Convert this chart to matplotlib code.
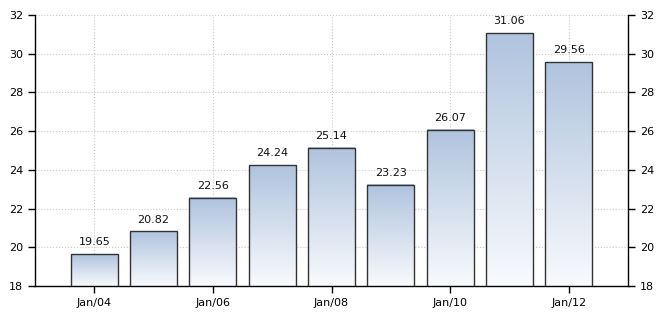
import numpy as np
import matplotlib
matplotlib.use("Agg")
import matplotlib.pyplot as plt
from matplotlib.colors import LinearSegmentedColormap

# dati
anni = ["Jan/04", "Jan/05", "Jan/06", "Jan/07", "Jan/08", "Jan/09", "Jan/10", "Jan/11", "Jan/12"]
valori = [19.65, 20.82, 22.56, 24.24, 25.14, 23.23, 26.07, 31.06, 29.56]
yticks = [18, 20, 22, 24, 26, 28, 30, 32]

fig = plt.figure(figsize=(6.7, 3.19), dpi=100)
ax = fig.add_axes([35/670, 1-286/319, (628-35)/670, (286-15)/319])

x = np.arange(len(valori))
barre = ax.bar(x, valori, width=0.79, bottom=0, color="none",
               edgecolor="#333333", linewidth=1.0, zorder=3)

# gradiente dentro ogni barra (bianco in basso, azzurro in alto)
cmap = LinearSegmentedColormap.from_list("grad", ["#f8fafd", "#b0c4de"])
grad = np.linspace(0, 1, 64).reshape(-1, 1)
for b in barre:
    x0 = b.get_x()
    w = b.get_width()
    h = b.get_height()
    ax.imshow(grad, cmap=cmap, origin="lower", aspect="auto",
              interpolation="bilinear", extent=[x0, x0 + w, 18, h], zorder=2)

for xi, v in zip(x, valori):
    ax.text(xi, v + 0.35, f"{v:.2f}", ha="center", va="bottom",
            fontsize=8, color="#111111")

ax.set_xlim(-1.0, 9.0)
ax.set_ylim(18, 32)
ax.set_xticks(x[::2])
ax.set_xticklabels(anni[::2])
ax.set_yticks(yticks)

ax.grid(True, linestyle=":", color="#c8c8c8", linewidth=0.8, zorder=0)
ax.set_axisbelow(True)

ax.spines["top"].set_visible(False)
for s in ["left", "right", "bottom"]:
    ax.spines[s].set_color("black")
    ax.spines[s].set_linewidth(1.0)

ax.tick_params(axis="both", labelsize=8, colors="black", length=5, width=1)
ax.tick_params(axis="y", labelright=True, right=True)

fig.savefig("out.png", dpi=100)
